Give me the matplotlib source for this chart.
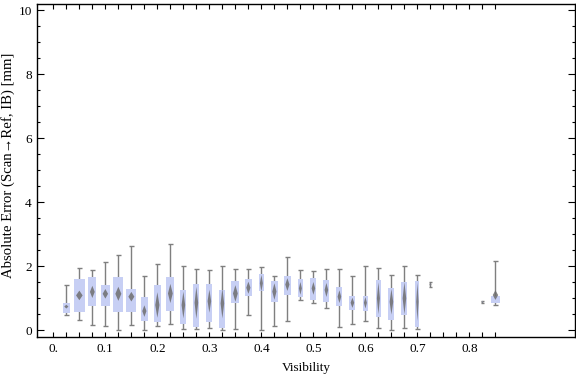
import numpy as np
import matplotlib.pyplot as plt

# visibility bins (box positions)
positions = [0.025, 0.05, 0.075, 0.1, 0.125, 0.15, 0.175, 0.2, 0.225, 0.25,
             0.275, 0.3, 0.325, 0.35, 0.375, 0.4, 0.425, 0.45, 0.475, 0.5,
             0.525, 0.55, 0.575, 0.6, 0.625, 0.65, 0.675, 0.7, 0.725, 0.825, 0.85]
whisker_lo = [0.47, 0.31, 0.17, 0.14, 0.00, 0.17, 0.00, 0.13, 0.19, 0.03,
              0.03, 0.07, 0.00, 0.03, 0.47, 0.00, 0.14, 0.29, 0.94, 0.84,
              0.69, 0.09, 0.19, 0.29, 0.07, 0.00, 0.07, 0.03, 1.35, 0.84, 0.79]
q1 = [0.55, 0.58, 0.77, 0.75, 0.58, 0.58, 0.30, 0.26, 0.61, 0.21,
      0.11, 0.26, 0.08, 0.86, 1.08, 1.24, 0.89, 1.11, 1.05, 0.96,
      0.89, 0.77, 0.64, 0.61, 0.43, 0.33, 0.49, 0.11, 1.39, 0.86, 0.86]
q3 = [0.85, 1.60, 1.67, 1.42, 1.67, 1.29, 1.04, 1.42, 1.67, 1.26,
      1.45, 1.45, 1.26, 1.54, 1.60, 1.76, 1.54, 1.70, 1.60, 1.63,
      1.57, 1.35, 1.07, 1.07, 1.57, 1.32, 1.51, 1.54, 1.47, 0.90, 1.07]
whisker_hi = [1.41, 1.94, 1.89, 2.12, 2.35, 2.62, 1.69, 2.06, 2.69, 2.00,
              1.92, 1.89, 2.00, 1.92, 1.92, 1.97, 1.69, 2.28, 1.89, 1.84,
              1.92, 1.92, 1.69, 2.00, 1.94, 1.72, 2.00, 1.72, 1.51, 0.92, 2.17]
means = [0.74, 1.09, 1.20, 1.14, 1.14, 1.05, 0.60, 0.79, 1.15, 0.79,
         0.86, 0.91, 0.84, 1.15, 1.33, 1.47, 1.21, 1.43, 1.31, 1.31,
         1.26, 1.05, 0.86, 0.86, 1.00, 0.89, 1.00, 0.89, 1.43, 0.88, 1.10]
mean_ci = [0.06, 0.15, 0.19, 0.15, 0.22, 0.15, 0.18, 0.40, 0.30, 0.42,
           0.50, 0.36, 0.47, 0.26, 0.19, 0.26, 0.26, 0.20, 0.20, 0.20,
           0.22, 0.20, 0.16, 0.18, 0.50, 0.40, 0.50, 0.60, 0.08, 0.04, 0.15]

# box widths in pixels (Mathematica scales them per bin)
box_px = [7, 11, 8, 9, 10, 10, 7, 7, 8, 6, 6, 6, 6, 8, 7, 5, 7, 7, 5, 6,
          6, 6, 6, 5, 5, 6, 6, 4, 1, 1, 9]

px = 1 / 520.0  # data units per pixel along x
widths = np.array(box_px) * px
pos = np.array(positions)

plt.rcParams['font.family'] = ['Liberation Serif', 'DejaVu Serif']

fig = plt.figure(figsize=(5.76, 3.77), dpi=100)
ax = fig.add_axes([0.0637, 0.1061, 0.9346, 0.8825])

box_col = '#c7cff4'
grey = '#7f7f7f'

cap = np.where(widths < 3 * px, 1.2 * px, 2.2 * px)
ax.vlines(pos, whisker_lo, whisker_hi, color=grey, lw=1.0, zorder=1)
ax.hlines(whisker_lo, pos - cap, pos + cap, color=grey, lw=1.0, zorder=1)
ax.hlines(whisker_hi, pos - cap, pos + cap, color=grey, lw=1.0, zorder=1)

ax.bar(pos, np.array(q3) - np.array(q1), bottom=q1, width=widths,
       color=box_col, edgecolor='none', zorder=2)

for x, w, m, c in zip(pos, widths, means, mean_ci):
    dw = max(w * 0.3, 1.0 * px)
    ax.fill([x - dw, x, x + dw, x], [m, m + c, m, m - c],
            color='#6e6e6e', alpha=0.85, lw=0, zorder=3)

ax.set_xlim(-0.032, 1.003)
ax.set_ylim(-0.21, 10.19)

xt = np.arange(0, 0.851, 0.025)
xl = []
for t in xt:
    k = int(round(t * 40))
    if k % 4 == 0 and t < 0.81:
        xl.append('0.' if k == 0 else f'{t:.1f}')
    else:
        xl.append('')
ax.set_xticks(xt, xl)
ax.set_yticks(np.arange(0, 10.1, 2), ['0', '2', '4', '6', '8', '10'])
ax.set_yticks(np.arange(0, 10.1, 0.5), minor=True)

ax.tick_params(axis='both', which='both', direction='in', top=True, right=True,
               labelsize=9.5, width=0.8, color='black')
ax.tick_params(axis='x', which='major', length=3.8, pad=4)
ax.tick_params(axis='y', which='major', length=4.8, pad=3.5)
ax.tick_params(axis='y', which='minor', length=2.5)
for s in ax.spines.values():
    s.set_linewidth(1.0)

ax.set_xlabel('Visibility', fontsize=9.5, labelpad=5)
ax.set_ylabel('Absolute Error (Scan\u2192Ref, IB) [mm]', fontsize=10.6)
ax.yaxis.set_label_coords(-0.041, 0.517)

fig.savefig('out.png', dpi=100)
